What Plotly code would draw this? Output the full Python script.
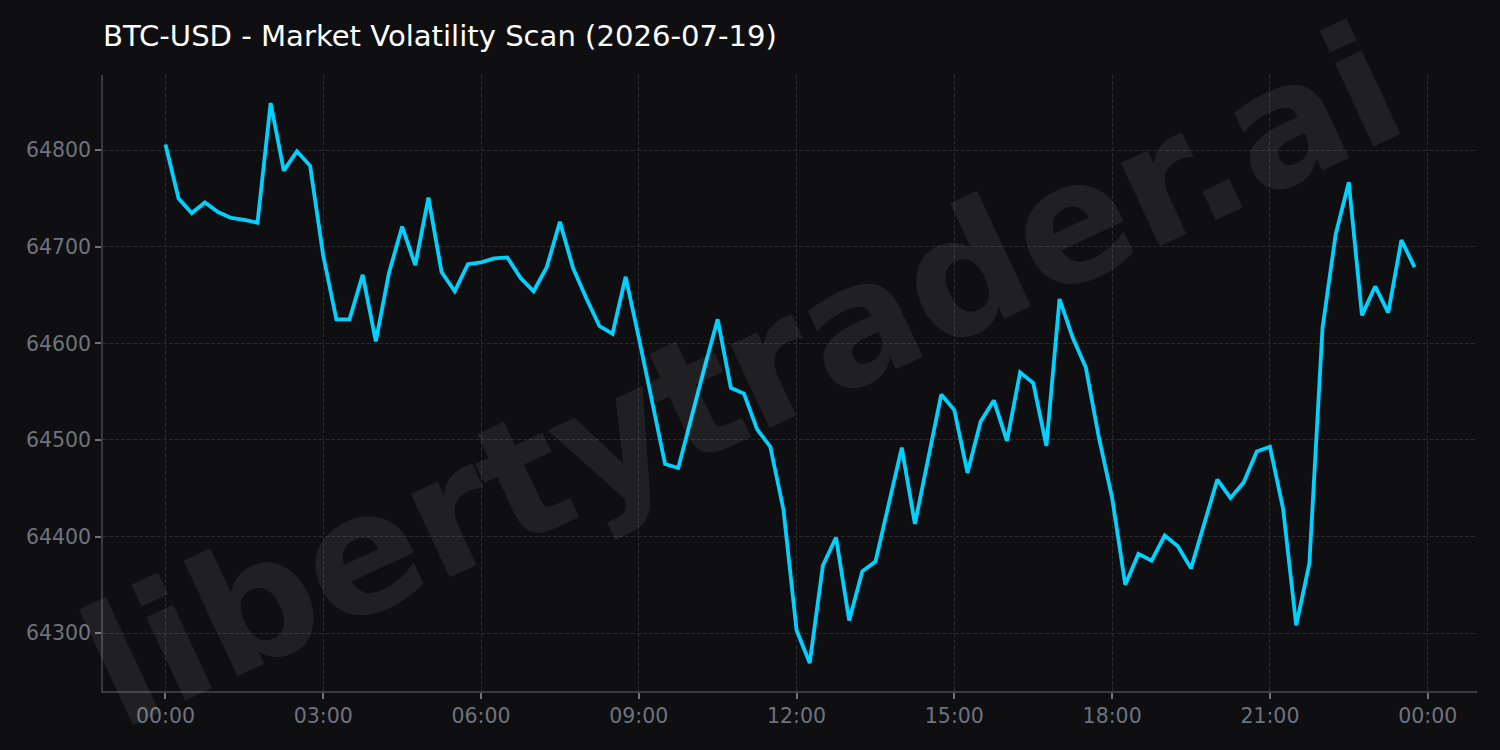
import pandas as pd
import plotly.graph_objects as go

# ---- data (15-minute BTC-USD prices) ----
start_time = "2026-07-19 00:00"
interval = "15min"
prices = [
    64806, 64750, 64735, 64746, 64736, 64730, 64728, 64725,
    64849, 64779, 64799, 64784, 64691, 64625, 64625, 64671,
    64602, 64673, 64721, 64681, 64751, 64674, 64654, 64682,
    64684, 64688, 64689, 64668, 64654, 64679, 64726, 64678,
    64647, 64618, 64610, 64669, 64606, 64541, 64475, 64471,
    64524, 64575, 64625, 64554, 64548, 64511, 64493, 64428,
    64303, 64269, 64370, 64399, 64313, 64364, 64374, 64432,
    64492, 64413, 64480, 64547, 64531, 64466, 64519, 64541,
    64499, 64570, 64559, 64494, 64646, 64606, 64575, 64502,
    64440, 64350, 64382, 64375, 64401, 64390, 64367, 64414,
    64459, 64440, 64456, 64488, 64493, 64429, 64308, 64372,
    64616, 64713, 64767, 64629, 64659, 64632, 64707, 64679,
]
title_text = "BTC-USD - Market Volatility Scan (2026-07-19)"
watermark_text = "libertytrader.ai"

times = pd.date_range(start_time, periods=len(prices), freq=interval)

# ---- styling ----
BG = "#0f0f12"
LINE = "#00d1ff"
TICK = "#6e737d"
SPINE = "#3a3a3e"
GRID = "#2a2a2e"
FONT = "DejaVu Sans"

# matplotlib-like 5% margins
t0, t1 = times[0], times[-1]
span = t1 - t0
x_range = [t0 - span * 0.05, t1 + span * 0.05]
ymin, ymax = min(prices), max(prices)
pad = (ymax - ymin) * 0.05
y_range = [ymin - pad, ymax + pad]

fig = go.Figure()
fig.add_trace(go.Scatter(
    x=times, y=prices, mode="lines",
    line=dict(color=LINE, width=3.8),
    showlegend=False, hoverinfo="skip",
))

W, H = 1500, 750
ml, mr, mt, mb = 103, 23, 75, 59
pw, ph = W - ml - mr, H - mt - mb

fig.update_layout(
    width=W, height=H,
    margin=dict(l=ml, r=mr, t=mt, b=mb, pad=0),
    paper_bgcolor=BG, plot_bgcolor=BG,
    font=dict(family=FONT, color=TICK, size=20.5),
    title=dict(
        text=title_text, x=0, xref="paper", xanchor="left",
        y=1 - 36 / H, yref="container", yanchor="middle",
        font=dict(family=FONT, size=29.1, color="#ffffff"),
    ),
    xaxis=dict(
        type="date", range=x_range,
        tick0=start_time, dtick=3 * 3600 * 1000, tickformat="%H:%M",
        showgrid=True, gridcolor=GRID, griddash="4px,2px", gridwidth=1,
        showline=True, linecolor=SPINE, linewidth=1.5,
        ticks="outside", ticklen=6, tickwidth=1.5, tickcolor=TICK,
        tickfont=dict(family=FONT, size=20.5, color=TICK),
        zeroline=False, mirror=False,
    ),
    yaxis=dict(
        range=y_range, dtick=100, tick0=64300, tickformat="d",
        showgrid=True, gridcolor=GRID, griddash="4px,2px", gridwidth=1,
        showline=True, linecolor=SPINE, linewidth=1.5,
        ticks="outside", ticklen=6, tickwidth=1.5, tickcolor=TICK,
        tickfont=dict(family=FONT, size=20.5, color=TICK),
        zeroline=False, mirror=False,
    ),
)

# watermark centred near the figure centre
fig.add_annotation(
    text=watermark_text, xref="paper", yref="paper",
    x=(W / 2 - 8 - ml) / pw, y=(H - mb - (H / 2 + 2)) / ph,
    xanchor="center", yanchor="middle",
    textangle=-25, showarrow=False,
    font=dict(family=FONT, size=168, color="rgba(255,255,255,0.075)", weight="bold"),
)

fig.write_html("out.html")
